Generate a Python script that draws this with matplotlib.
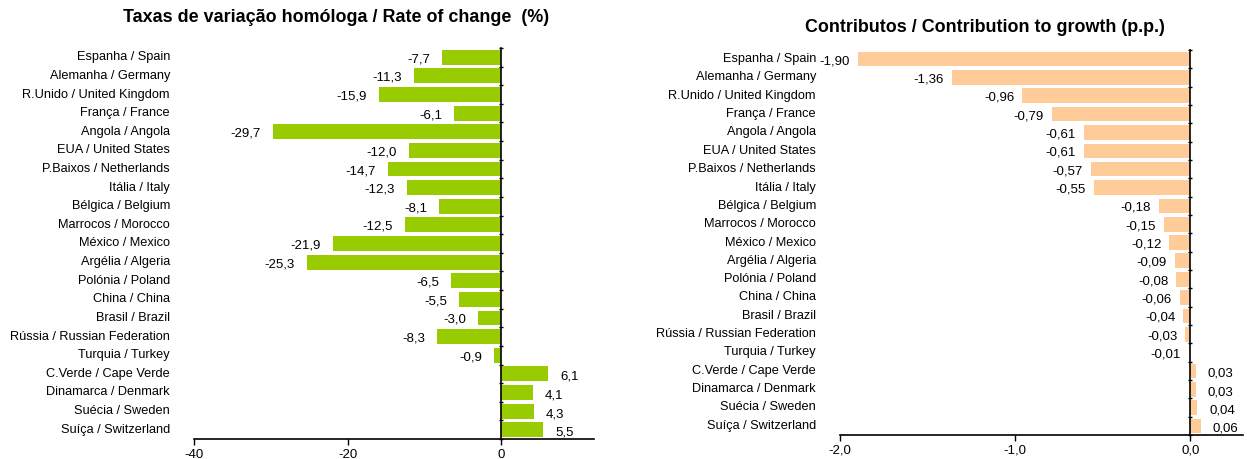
import matplotlib
matplotlib.use("Agg")
import matplotlib.pyplot as plt
import numpy as np

plt.rcParams['font.family'] = ['Liberation Sans', 'DejaVu Sans']

countries = ["Espanha / Spain", "Alemanha / Germany", "R.Unido / United Kingdom",
             "França / France", "Angola / Angola", "EUA / United States",
             "P.Baixos / Netherlands", "Itália / Italy", "Bélgica / Belgium",
             "Marrocos / Morocco", "México / Mexico", "Argélia / Algeria",
             "Polónia / Poland", "China / China", "Brasil / Brazil",
             "Rússia / Russian Federation", "Turquia / Turkey", "C.Verde / Cape Verde",
             "Dinamarca / Denmark", "Suécia / Sweden", "Suíça / Switzerland"]
rate = [-7.7, -11.3, -15.9, -6.1, -29.7, -12.0, -14.7, -12.3, -8.1, -12.5,
        -21.9, -25.3, -6.5, -5.5, -3.0, -8.3, -0.9, 6.1, 4.1, 4.3, 5.5]
contrib = [-1.90, -1.36, -0.96, -0.79, -0.61, -0.61, -0.57, -0.55, -0.18, -0.15,
           -0.12, -0.09, -0.08, -0.06, -0.04, -0.03, -0.01, 0.03, 0.03, 0.04, 0.06]
left_ticks = [-40, -20, 0]
right_ticks = [-2.0, -1.0, 0.0]

W, H = 1247, 459
fig = plt.figure(figsize=(W / 100, H / 100), dpi=100)

def fmt(v, d):
    return f"{v:.{d}f}".replace(".", ",")

def make(ax, vals, color, xlim, ticks, tdec, ldec, lab_gap_px, neg_gap, title, title_pos):
    n = len(vals)
    y = np.arange(n)
    ax.barh(y, vals, height=0.8, color=color, zorder=2)
    ax.set_ylim(n - 0.5, -0.5)
    ax.set_xlim(*xlim)
    for s in ['top', 'right']:
        ax.spines[s].set_visible(False)
    ax.spines['left'].set_position(('data', 0))
    ax.spines['left'].set_linewidth(1.2)
    ax.spines['bottom'].set_linewidth(1.2)
    ax.spines['left'].set_zorder(3)
    ax.set_yticks(np.arange(n + 1) - 0.5)
    ax.set_yticklabels([])
    ax.tick_params(axis='y', length=3, direction='inout', width=1)
    ax.set_xticks(ticks)
    ax.set_xticklabels([fmt(t, tdec) for t in ticks], fontsize=9.5)
    ax.tick_params(axis='x', length=4, direction='out', width=1, pad=3)
    for i, name in enumerate(countries):
        ax.annotate(name, xy=(0, i), xycoords=('axes fraction', 'data'),
                    xytext=(-lab_gap_px, 0), textcoords='offset pixels',
                    ha='right', va='center', fontsize=9.2)
    for i, v in enumerate(vals):
        if v < 0:
            ax.annotate(fmt(v, ldec), xy=(v, i), xytext=(-neg_gap, -2), textcoords='offset pixels',
                        ha='right', va='center', fontsize=9.5)
        else:
            ax.annotate(fmt(v, ldec), xy=(v, i), xytext=(12, -3), textcoords='offset pixels',
                        ha='left', va='center', fontsize=9.5)
    fig.text(*title_pos, title, ha='center', va='center', fontsize=12.9, fontweight='bold')

ax1 = fig.add_axes([194 / W, 1 - 439 / H, (594 - 194) / W, (439 - 48) / H])
make(ax1, rate, '#99CC00', (-40, 12.1), left_ticks, 0, 1, 24, 12,
     "Taxas de variação homóloga / Rate of change  (%)", (336 / W, 1 - 18 / H))

ax2 = fig.add_axes([840 / W, 1 - 435 / H, (1243 - 840) / W, (435 - 50) / H])
make(ax2, contrib, '#FFCC99', (-2.0, 0.3), right_ticks, 1, 2, 24, 8,
     "Contributos / Contribution to growth (p.p.)", (985 / W, 1 - 28 / H))

fig.savefig("out.png", dpi=100)
